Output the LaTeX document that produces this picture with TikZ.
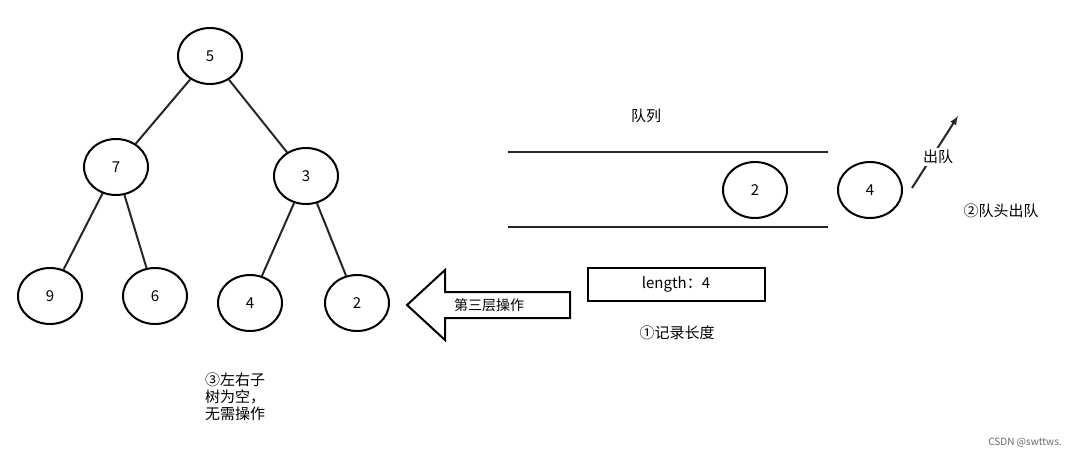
\documentclass[tikz,border=0pt]{standalone}
\usepackage{fontspec}
\setmainfont{Noto Sans CJK SC}
\usetikzlibrary{shapes.geometric}
\begin{document}
\begin{tikzpicture}[x=1pt,y=-1pt,
  nd/.style={draw,line width=2pt,ellipse,minimum width=64pt,minimum height=56pt,inner sep=0pt,font=\fontsize{15}{18}\selectfont},
  ed/.style={line width=2pt,color=black!85},
  lb/.style={font=\fontsize{15}{18}\selectfont,inner sep=0pt}]
\useasboundingbox (0,0) rectangle (1086,458);
\node[nd] (n5) at (210,56) {5};
\node[nd] (n7) at (116,167) {7};
\node[nd] (n3) at (306,176) {3};
\node[nd] (n9) at (50,296) {9};
\node[nd] (n6) at (155,296) {6};
\node[nd] (n4) at (250,303) {4};
\node[nd] (n2) at (357,303) {2};
\draw[ed] (n5)--(n7); \draw[ed] (n5)--(n3);
\draw[ed] (n7)--(n9); \draw[ed] (n7)--(n6);
\draw[ed] (n3)--(n4); \draw[ed] (n3)--(n2);
\coordinate (qa) at (508,152); \coordinate (qb) at (828,152);
\coordinate (qc) at (508,227); \coordinate (qd) at (828,227);
\draw[ed] (qa)--(qb); \draw[ed] (qc)--(qd);
\node[lb] (ql) at (646,116) {队列};
\node[nd] (q2) at (755,190) {2};
\node[nd] (q4) at (870,190) {4};
\coordinate (oa) at (912,188); \coordinate (ob) at (958,116);
\draw[ed,-latex] (oa)--(ob);
\node[lb,fill=white,inner sep=2pt] (ol) at (938,157) {出队};
\node[lb] (hd) at (1001,211) {②队头出队};
\node[draw,line width=2pt,minimum width=177pt,minimum height=33pt,inner sep=0pt,font=\fontsize{15}{18}\selectfont] (len) at (676,284) {length：4};
\node[lb] (rec) at (677,333) {①记录长度};
\draw[line width=2pt,fill=white] (570,292)--(445,292)--(445,270)--(407,305)--(445,340)--(445,318)--(570,318)--cycle;
\node[lb,font=\fontsize{14}{17}\selectfont] (op) at (489,305) {第三层操作};
\node[lb,align=left,anchor=north west,font=\fontsize{15}{17}\selectfont] (emp) at (205,373) {③左右子\\树为空，\\无需操作};
\node[lb,font=\fontsize{10}{12}\selectfont,text=black!60] (wm) at (1025,443) {CSDN @swttws.};
\end{tikzpicture}
\end{document}
